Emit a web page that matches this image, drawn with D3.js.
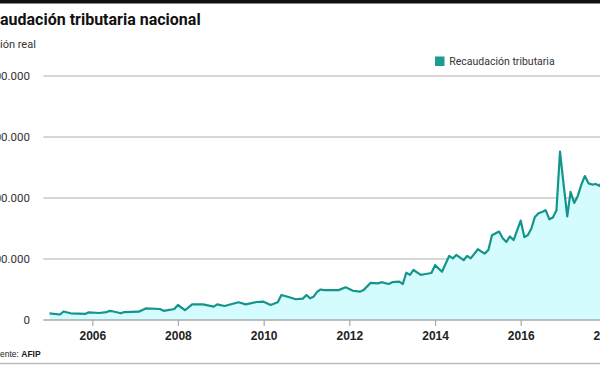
<!DOCTYPE html>
<html>
<head>
<meta charset="utf-8">
<script src="https://cdn.jsdelivr.net/npm/d3@7"></script>
<style>
  html, body { margin: 0; padding: 0; background: #fff; }
  svg { display: block; }
</style>
</head>
<body>
<svg id="chart" width="600" height="365"></svg>
<script>
// ---- data (month index from Jan 2005, value) ----
const titleText = "Recaudación tributaria nacional";
const subtitleText = "Recaudación real";
const sourceLabel = "Fuente: ";
const sourceName = "AFIP";
const legendLabel = "Recaudación tributaria";
const yTicks = [0, 100000, 200000, 300000, 400000];
const yTickLabels = ["0", "100.000", "200.000", "300.000", "400.000"];
const xTickYears = [2006, 2008, 2010, 2012, 2014, 2016, 2018];

const months = [
  0, 3, 4, 6, 10, 11, 14, 16, 17, 18, 20, 21, 25, 27, 31, 32, 35, 36, 38,
  40, 43, 46, 47, 49, 53, 55, 58, 60, 62, 64, 65, 67, 69, 71, 72, 73, 74, 75,
  76, 77, 81, 83, 85, 87, 88, 90, 92, 93, 95, 96, 98, 99, 100, 101, 102, 104,
  105, 107, 108, 110, 112, 113, 114, 116, 117, 118, 120, 121, 122, 123, 124,
  126, 127, 128, 129, 130, 132, 133, 134, 135, 136, 137, 138, 139, 140, 141,
  142, 143, 144, 145, 146, 147, 148, 149, 150, 151, 152, 153, 154, 155
];
const values = [
  11000, 9000, 14000, 11000, 10000, 12600, 11500, 13000, 15000, 14000, 11000, 13000, 13600, 19000, 18000, 15000, 18000, 24600, 16000,
  25700, 25700, 22000, 25700, 23000, 29000, 25700, 29500, 30000, 24600, 29000, 41000, 37700, 34000, 35000, 41000, 35500, 38000, 46000,
  50000, 49000, 49000, 53600, 48000, 46500, 49000, 61000, 60000, 62000, 59000, 62000, 63000, 59000, 77500, 74000, 82000, 74000,
  75000, 77000, 90000, 79000, 105000, 101000, 106600, 98000, 105000, 101000, 116000, 112000, 109000, 115000, 139000,
  145000, 134000, 128000, 137000, 131000, 163000, 136000, 139000, 150000, 169000, 175000, 177000, 180000, 165000, 168000,
  180000, 276000, 222000, 170000, 210000, 192000, 203000, 222000, 236000, 224000, 222000, 223000, 220000, 228000
];

// ---- chart ----
const svg = d3.select("#chart");
const W = 600, H = 365;
const teal = "#14958b";
const fillColor = "#d4fbfd";

const x = d3.scaleTime()
  .domain([new Date(2006, 0, 1), new Date(2016, 0, 1)])
  .range([92.3, 520.7]);
const y = d3.scaleLinear().domain([0, 400000]).range([320, 76]);

const data = months.map((m, i) => ({ date: new Date(2005, m, 1), value: values[i] }));

// helper: place text so that its visible part (after `hiddenPrefix`) starts at x=0
function placeCropped(sel, full, hiddenPrefix) {
  sel.text(hiddenPrefix);
  const w = sel.node().getComputedTextLength();
  sel.text(full).attr("x", -w);
}

// top black bar
svg.append("rect").attr("x", 0).attr("y", 0).attr("width", W).attr("height", 3.5).attr("fill", "#111");

// title
const title = svg.append("text")
  .attr("y", 25)
  .attr("font-family", "Roboto, 'Liberation Sans', sans-serif")
  .attr("font-weight", 700)
  .attr("font-size", 16)
  .attr("fill", "#111");
placeCropped(title, titleText, "Rec");

// subtitle
const sub = svg.append("text")
  .attr("y", 47.5)
  .attr("font-family", "Roboto, 'Liberation Sans', sans-serif")
  .attr("font-size", 11)
  .attr("fill", "#333");
placeCropped(sub, subtitleText, "Recaudac");

// gridlines + y labels
const gridX0 = 43.3;
const gy = svg.append("g");
yTicks.forEach((t, i) => {
  if (t !== 0) {
    gy.append("line")
      .attr("x1", gridX0).attr("x2", W)
      .attr("y1", y(t)).attr("y2", y(t))
      .attr("stroke", "#c8c8c8").attr("stroke-width", 1.3);
  }
  gy.append("text")
    .attr("x", 30).attr("y", y(t))
    .attr("dy", "0.35em")
    .attr("text-anchor", "end")
    .attr("font-family", "Roboto, 'Liberation Sans', sans-serif")
    .attr("font-size", 11.5)
    .attr("fill", "#333")
    .text(yTickLabels[i]);
});

// area + line
const area = d3.area()
  .x(d => x(d.date))
  .y0(y(0))
  .y1(d => y(d.value));
const line = d3.line()
  .x(d => x(d.date))
  .y(d => y(d.value));

svg.append("path").datum(data).attr("d", area).attr("fill", fillColor);
svg.append("path").datum(data).attr("d", line)
  .attr("fill", "none").attr("stroke", teal).attr("stroke-width", 2.2)
  .attr("stroke-linejoin", "round");

// x axis
const xAxis = d3.axisBottom(x)
  .tickValues(xTickYears.map(yr => new Date(yr, 0, 1)))
  .tickFormat(d3.timeFormat("%Y"))
  .tickSize(6)
  .tickSizeOuter(0);
const gx = svg.append("g").attr("transform", `translate(0,${y(0)})`).call(xAxis);
gx.select(".domain").remove();
gx.append("line").attr("x1", gridX0).attr("x2", W).attr("y1", 0).attr("y2", 0)
  .attr("stroke", "#aaa").attr("stroke-width", 1.3);
gx.selectAll(".tick line").attr("stroke", "#aaa").attr("stroke-width", 1.2);
gx.selectAll(".tick text")
  .attr("y", 11)
  .attr("font-family", "'Liberation Sans', Arial, sans-serif")
  .attr("font-weight", 700)
  .attr("font-size", 12)
  .attr("fill", "#222");

// legend
svg.append("rect").attr("x", 435).attr("y", 56.5).attr("width", 9.5).attr("height", 9.5).attr("fill", "#1a9c93");
svg.append("text")
  .attr("x", 449.3).attr("y", 65)
  .attr("font-family", "Roboto, 'Liberation Sans', sans-serif")
  .attr("font-size", 10.5)
  .attr("fill", "#333")
  .text(legendLabel);

// source
const src = svg.append("text")
  .attr("y", 356.5)
  .attr("font-family", "'Liberation Sans', Arial, sans-serif")
  .attr("font-size", 8.5)
  .attr("fill", "#222");
src.text("Fu");
const srcPrefixW = src.node().getComputedTextLength();
src.text(null).attr("x", -srcPrefixW);
src.append("tspan").text(sourceLabel);
src.append("tspan").attr("font-weight", 700).text(sourceName);

// bottom rule
svg.append("line").attr("x1", 0).attr("x2", W).attr("y1", 363.5).attr("y2", 363.5)
  .attr("stroke", "#bbb").attr("stroke-width", 1.3);
</script>
</body>
</html>
